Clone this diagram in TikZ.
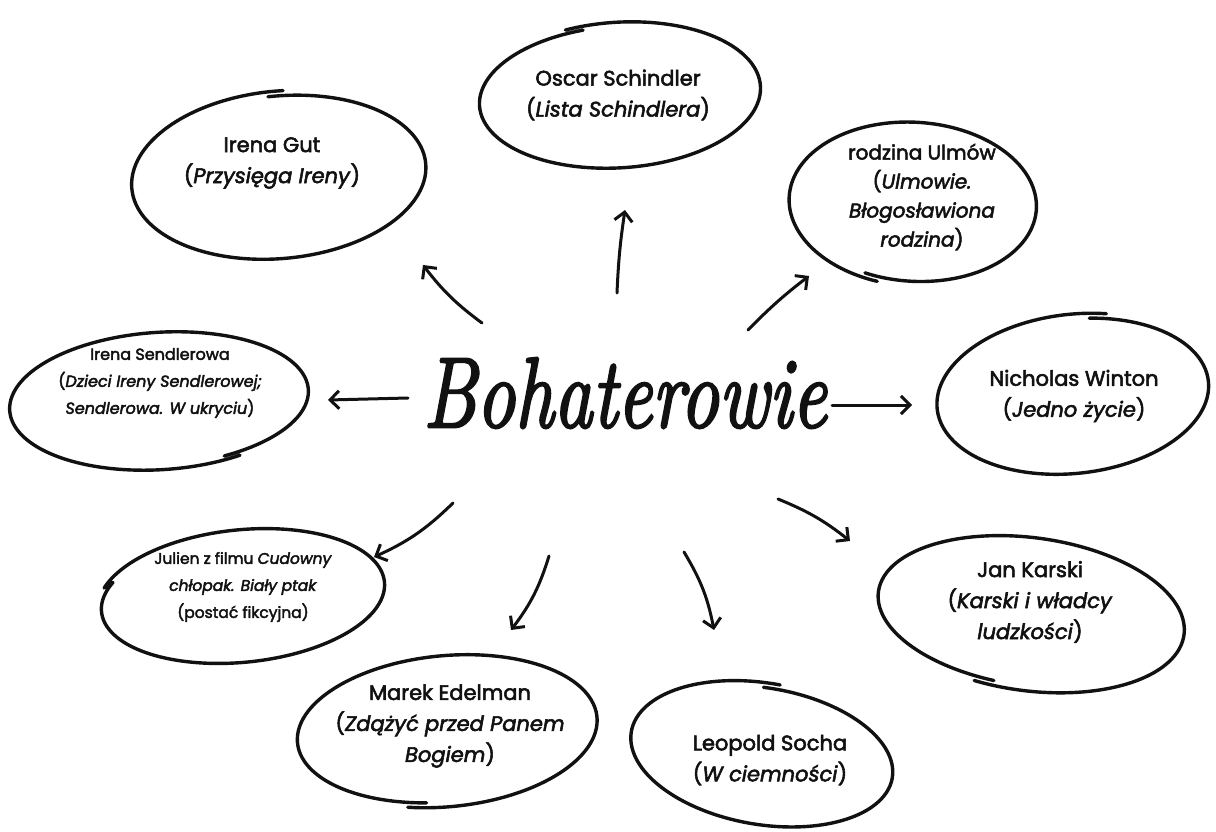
\documentclass[tikz,border=0pt]{standalone}
\usepackage{fontspec}
\newfontfamily\nf{Poppins}[FakeBold=2.6]
\newfontfamily\tf{lmroman10-italic.otf}[FakeBold=2.5]
\usetikzlibrary{arrows.meta}
\definecolor{ink}{HTML}{111111}
\newcommand{\handell}[8]{%
  \draw[ell] plot[smooth,domain=0:#7,samples=120,variable=\t]
   ({#1+((#3)+(#8)*\t/(#7))*cos(#6+\t)*cos(#5)-((#4)+(#8)*\t/(#7))*sin(#6+\t)*sin(#5)},
    {#2+((#3)+(#8)*\t/(#7))*cos(#6+\t)*sin(#5)+((#4)+(#8)*\t/(#7))*sin(#6+\t)*cos(#5)});}
\begin{document}
\begin{tikzpicture}[x=1pt,y=-1pt,
  ell/.style={ink,line width=3.4pt,line cap=round,line join=round},
  arr/.style={ink,line width=3pt,line cap=round,line join=round,-{Straight Barb[length=9pt,width=18pt]}},
  txt/.style={text=ink,font=\nf\fontsize{21}{31}\selectfont,align=center,inner sep=0pt},
  txts/.style={text=ink,font=\nf\fontsize{16}{27}\selectfont,align=center,inner sep=0pt},
  title/.style={text=ink,font=\tf\fontsize{100}{100}\selectfont,inner sep=0pt,xscale=0.755}]
\useasboundingbox (0,0) rectangle (1216,832);
\fill[white] (0,0) rectangle (1216,832);

% hand-drawn ellipses
\handell{619}{96}{143}{74}{-4}{250}{367}{-4}
\handell{280}{176}{145}{80}{-5}{268}{366}{5}
\handell{914}{203}{126}{83}{3}{105}{367}{-5}
\handell{160}{400}{152}{70}{-4}{60}{366}{-4}
\handell{1074}{395}{134}{76}{-6}{280}{367}{5}
\handell{242}{597}{145}{68}{-6}{200}{366}{-4}
\handell{1030}{613}{152}{73}{8}{100}{367}{5}
\handell{446}{730}{148}{72}{-5}{100}{367}{5}
\handell{763}{755}{130}{67}{10}{265}{367}{5}

% texts
\node[title] (center) at (625,393) {Bohaterowie};
\node[txt] (oscar) at (618,95) {Oscar Schindler\\(\textit{Lista Schindlera})};
\node[txt] (gut) at (272,163) {Irena Gut\\(\textit{Przysięga Ireny})};
\node[txt,font=\nf\fontsize{20}{29}\selectfont] (ulm) at (922,197) {rodzina Ulmów\\(\textit{Ulmowie.}\\\textit{Błogosławiona}\\\textit{rodzina})};
\node[txts] (send) at (160,383) {Irena Sendlerowa\\(\textit{Dzieci Ireny Sendlerowej;}\\\textit{Sendlerowa. W ukryciu})};
\node[txt] (win) at (1074,396) {Nicholas Winton\\(\textit{Jedno życie})};
\node[txts,font=\nf\fontsize{15.5}{27}\selectfont] (jul) at (243,587) {Julien z filmu \textit{Cudowny}\\\textit{chłopak. Biały ptak}\\(postać fikcyjna)};
\node[txt] (kar) at (1030,602) {Jan Karski\\(\textit{Karski i władcy}\\\textit{ludzkości})};
\node[txt] (ede) at (450,726) {Marek Edelman\\(\textit{Zdążyć przed Panem}\\\textit{Bogiem})};
\node[txt] (soc) at (770,760) {Leopold Socha\\(\textit{W ciemności})};

% arrow end points
\coordinate (g1) at (482,323); \coordinate (g2) at (423,265);
\coordinate (o1) at (617,293); \coordinate (o2) at (625,210);
\coordinate (u1) at (748,330); \coordinate (u2) at (809,276);
\coordinate (s1) at (408,398); \coordinate (s2) at (328,400);
\coordinate (w1) at (832,405); \coordinate (w2) at (912,405);
\coordinate (j1) at (453,503); \coordinate (j2) at (374,557);
\coordinate (e1) at (549,556); \coordinate (e2) at (511,630);
\coordinate (c1) at (684,552); \coordinate (c2) at (714,630);
\coordinate (k1) at (778,499); \coordinate (k2) at (850,541);

\draw[arr] (g1) to[bend left=8] (g2);
\draw[arr] (o1) to[bend left=3] (o2);
\draw[arr] (u1) to[bend left=4] (u2);
\draw[arr] (s1) to (s2);
\draw[arr] (w1) to (w2);
\draw[arr] (j1) to[bend left=10] (j2);
\draw[arr] (e1) to[bend left=10] (e2);
\draw[arr] (c1) to[bend left=10] (c2);
\draw[arr] (k1) to[bend left=8] (k2);
\end{tikzpicture}
\end{document}
